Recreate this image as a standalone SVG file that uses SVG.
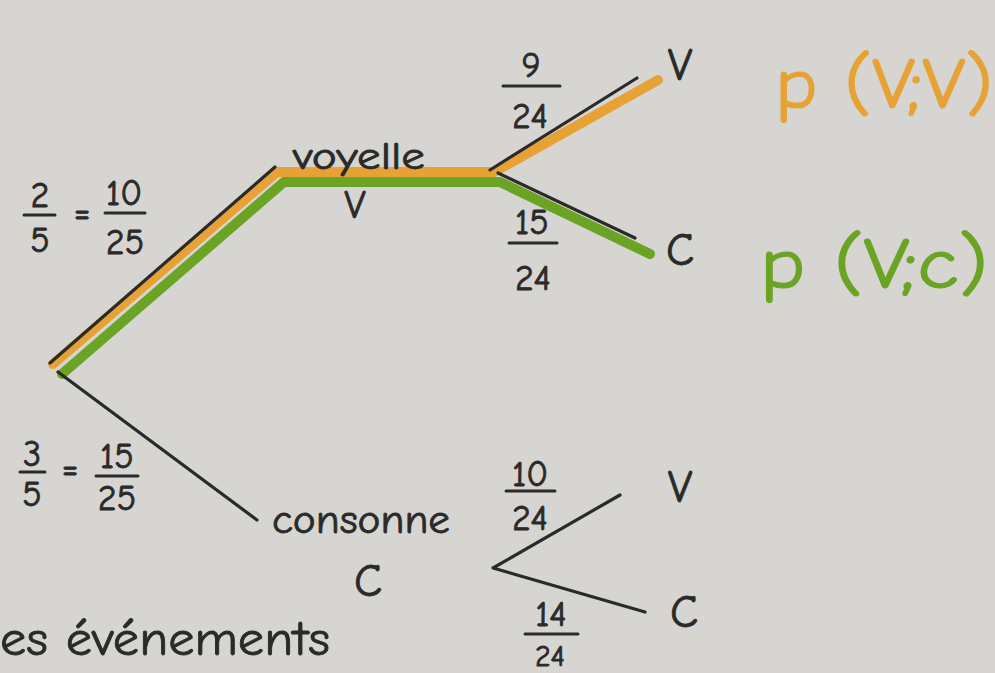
<svg xmlns="http://www.w3.org/2000/svg" width="995" height="673" viewBox="0 0 995 673">
<style>
.t{font-family:"Comic Neue","Liberation Sans","DejaVu Sans",sans-serif;fill:#2b2a2a;stroke:#2b2a2a;stroke-width:0.8}
.f{font-size:36px;text-anchor:middle}
.n{font-size:46px;text-anchor:middle}
.w{font-size:40px}
.bar{stroke:#2b2a2a;stroke-width:3;stroke-linecap:round}
.ln{fill:none;stroke:#2b2a2a;stroke-width:3.2;stroke-linecap:round;stroke-linejoin:round}
.or{fill:none;stroke:#e7a235;stroke-width:10;stroke-linecap:round;stroke-linejoin:round}
.gr{fill:none;stroke:#6ba425;stroke-width:10;stroke-linecap:round;stroke-linejoin:round}
.po{fill:#e7a235;stroke:#e7a235;stroke-width:1.2;font-size:72px}
.pg{fill:#6ba425;stroke:#6ba425;stroke-width:1.2;font-size:72px}
</style>
<rect width="995" height="673" fill="#d6d5d1"/>
<g id="connectors">
  <path class="gr" d="M62 374 L284 182 L500 182 L650 254"/>
  <path class="or" d="M53 364 L277 172 L494 172 L658 80"/>
  <path class="ln" d="M50 363 L275 167"/>
  <path class="ln" d="M490 170 L637 78"/>
  <path class="ln" d="M498 173 L635 238"/>
  <path class="ln" d="M58 372 L257 520"/>
  <path class="ln" d="M620 495 L493 568 L645 612"/>
</g>
<g id="root-labels">
  <text class="t f" x="40" y="207">2</text>
  <line class="bar" x1="24" y1="215" x2="55" y2="215"/>
  <text class="t f" x="40" y="252">5</text>
  <text class="t f" x="82" y="224">=</text>
  <text class="t f" x="124" y="205">10</text>
  <line class="bar" x1="105" y1="213" x2="145" y2="213"/>
  <text class="t f" x="125" y="254">25</text>
  <text class="t f" x="32" y="466">3</text>
  <line class="bar" x1="20" y1="472" x2="45" y2="472"/>
  <text class="t f" x="32" y="506">5</text>
  <text class="t f" x="70" y="480">=</text>
  <text class="t f" x="117" y="468">15</text>
  <line class="bar" x1="96" y1="476" x2="138" y2="476"/>
  <text class="t f" x="117" y="510">25</text>
</g>
<g id="node-voyelle">
  <text class="t" x="293" y="169" font-size="38" textLength="132" lengthAdjust="spacingAndGlyphs">voyelle</text>
  <text class="t" x="355" y="218" font-size="40" text-anchor="middle">V</text>
</g>
<g id="node-vv">
  <text class="t f" x="531" y="77">9</text>
  <line class="bar" x1="503" y1="86" x2="560" y2="86"/>
  <text class="t f" x="530" y="128">24</text>
  <text class="t n" x="680" y="80">V</text>
  <text class="po" x="775" y="108" font-family="Comic Neue, Liberation Sans, sans-serif" textLength="218" lengthAdjust="spacingAndGlyphs">p (V;V)</text>
</g>
<g id="node-vc">
  <text class="t f" x="532" y="234">15</text>
  <line class="bar" x1="509" y1="243" x2="557" y2="243"/>
  <text class="t f" x="533" y="290">24</text>
  <text class="t n" x="680" y="265">C</text>
  <text class="pg" x="760" y="288" font-family="Comic Neue, Liberation Sans, sans-serif" textLength="228" lengthAdjust="spacingAndGlyphs">p (V;c)</text>
</g>
<g id="node-consonne">
  <text class="t w" x="272" y="533" textLength="178" lengthAdjust="spacingAndGlyphs">consonne</text>
  <text class="t n" x="368" y="596">C</text>
</g>
<g id="node-cv">
  <text class="t f" x="530" y="486">10</text>
  <line class="bar" x1="506" y1="491" x2="555" y2="491"/>
  <text class="t f" x="530" y="530">24</text>
  <text class="t n" x="680" y="502">V</text>
</g>
<g id="node-cc">
  <text class="t f" x="551" y="626">14</text>
  <line class="bar" x1="525" y1="634" x2="578" y2="634"/>
  <text class="t" x="550" y="666" font-size="30" text-anchor="middle">24</text>
  <text class="t n" x="684" y="627">C</text>
</g>
<text class="t" x="0" y="655" font-size="48" textLength="330" lengthAdjust="spacingAndGlyphs">es événements</text>
</svg>
